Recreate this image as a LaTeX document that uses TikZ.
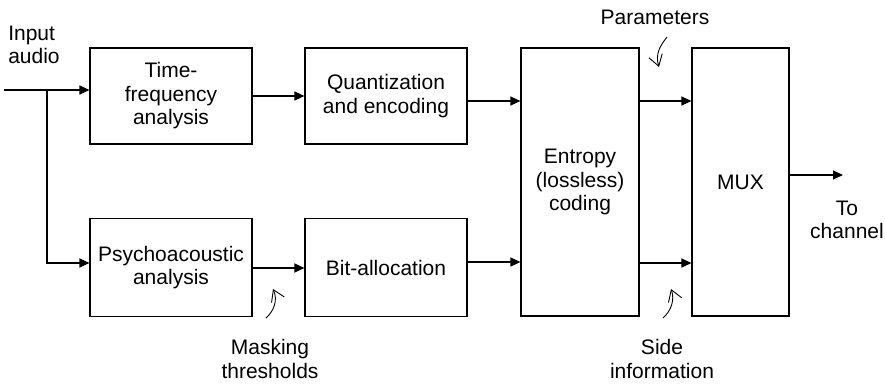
\documentclass[tikz,border=0pt]{standalone}
\usepackage{fontspec}
\setmainfont{Liberation Sans}
\usetikzlibrary{arrows.meta}
\tikzset{
  block/.style={draw, line width=1.1pt, align=center, inner sep=0pt},
  flow/.style={line width=1.1pt, -{Triangle[length=10pt,width=9pt]}},
  hint/.style={line width=0.9pt, -{Straight Barb[length=11pt,width=14pt]}},
  note/.style={align=center, inner sep=0pt}
}
\begin{document}
\begin{tikzpicture}[x=1pt,y=-1pt,font=\fontsize{21}{23.5}\selectfont]
      \useasboundingbox (0,0) rectangle (885,386);
      \node[block, minimum width=162pt, minimum height=96pt] (tf) at (171,96) {Time-\\frequency\\analysis};
      \node[block, minimum width=162pt, minimum height=96pt] (quant) at (386,96) {Quantization\\and encoding};
      \node[block, minimum width=162pt, minimum height=98pt] (psych) at (171,267.5) {Psychoacoustic\\analysis};
      \node[block, minimum width=162pt, minimum height=98pt] (bit) at (386,267.5) {Bit-allocation};
      \node[block, minimum width=118pt, minimum height=268pt] (entropy) at (580,182) {Entropy\\(lossless)\\coding};
      \node[block, minimum width=97pt, minimum height=268pt] (mux) at (740.5,182) {MUX};
      \node[note, align=left] (input) at (34,45) {Input\\audio};
      \node[note] (params) at (655,17) {Parameters};
      \node[note] (masking) at (270,359) {Masking\\thresholds};
      \node[note] (side) at (662,359) {Side\\information};
      \node[note] (channel) at (847,220) {To\\channel};
      \coordinate (in) at (4,90);
      \coordinate (split) at (47,90);
      \coordinate (out) at (843,175);
      \begin{scope}[flow]
        \draw (in) -- (in -| tf.west);
        \draw (split) |- (split |- 0,263) -- (psych.west |- 0,263);
        \draw (tf) -- (quant);
        \draw (quant.east |- 0,101) -- (entropy.west |- 0,101);
        \draw (psych.east |- 0,268) -- (bit.west |- 0,268);
        \draw (bit.east |- 0,262) -- (entropy.west |- 0,262);
        \draw (entropy.east |- 0,101) -- (mux.west |- 0,101);
        \draw (entropy.east |- 0,263) -- (mux.west |- 0,263);
        \draw (mux.east |- out) -- (out);
      \end{scope}
      \begin{scope}[hint]
        \draw (667,37) .. controls (660,46) and (655,54) .. (659,67);
        \draw (266,318) .. controls (274,311) and (278,300) .. (273,289);
        \draw (663,318) .. controls (671,311) and (675,300) .. (671,289);
      \end{scope}
    \end{tikzpicture}
\end{document}
